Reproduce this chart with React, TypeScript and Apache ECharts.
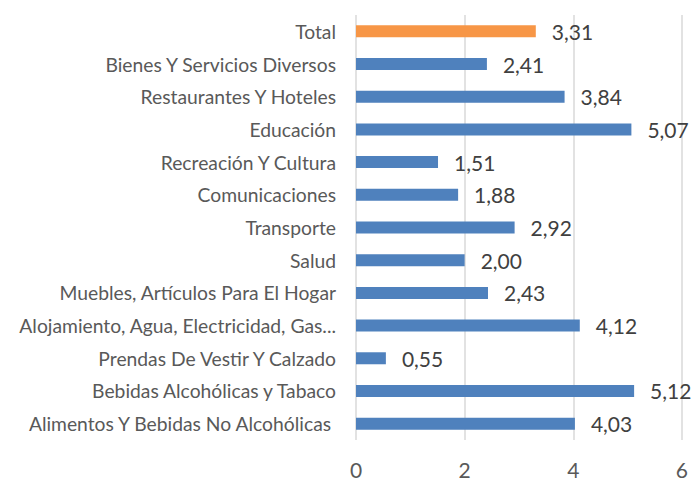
import React, { useEffect, useRef } from "react";
import * as echarts from "echarts";

const categories = [
  "Alimentos Y Bebidas No Alcohólicas ",
  "Bebidas Alcohólicas y Tabaco",
  "Prendas De Vestir Y Calzado",
  "Alojamiento, Agua, Electricidad, Gas...",
  "Muebles, Artículos Para El Hogar",
  "Salud",
  "Transporte",
  "Comunicaciones",
  "Recreación Y Cultura",
  "Educación",
  "Restaurantes Y Hoteles",
  "Bienes Y Servicios Diversos",
  "Total",
];
const values = [4.03, 5.12, 0.55, 4.12, 2.43, 2.0, 2.92, 1.88, 1.51, 5.07, 3.84, 2.41, 3.31];
const highlightCategory = "Total";
const xTicks = { min: 0, max: 6, interval: 2 };

const FONT = "Lato";
const TEXT = "#595959";

export default function App() {
  const ref = useRef<HTMLDivElement>(null);
  useEffect(() => {
    if (!ref.current) return;
    const chart = echarts.init(ref.current, undefined, { renderer: "svg" });
    chart.setOption({
      animation: false,
      grid: { left: 356, right: 9, top: 15, bottom: 41, containLabel: false },
      xAxis: {
        type: "value",
        min: xTicks.min,
        max: xTicks.max,
        interval: xTicks.interval,
        axisLine: { show: false },
        axisTick: { show: false },
        splitLine: { lineStyle: { color: "#d9d9d9", width: 1.5 } },
        axisLabel: { color: TEXT, fontSize: 21, fontFamily: FONT, margin: 19 },
      },
      yAxis: {
        type: "category",
        data: categories,
        axisLine: { show: false },
        axisTick: { show: false },
        axisLabel: { color: TEXT, fontSize: 19.3, fontFamily: FONT, margin: 20 },
      },
      series: [
        {
          type: "bar",
          barWidth: 12,
          data: values.map((v, i) => ({
            value: v,
            itemStyle: { color: categories[i] === highlightCategory ? "#F79646" : "#4F81BD" },
          })),
          label: {
            show: true,
            position: "right",
            distance: 16,
            color: "#404040",
            fontSize: 21,
            fontFamily: FONT,
            formatter: (p: any) => p.value.toFixed(2).replace(".", ","),
          },
        },
      ],
    });
    return () => chart.dispose();
  }, []);
  return (
    <div
      ref={ref}
      style={{ position: "fixed", left: 0, top: 0, width: 691, height: 481, background: "#fff" }}
    />
  );
}
